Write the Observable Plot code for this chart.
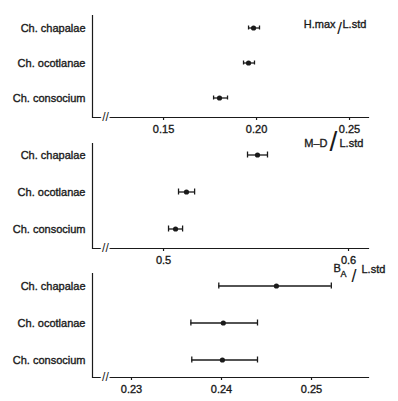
<!DOCTYPE html>
<html><head><meta charset="utf-8">
<script src="https://cdn.jsdelivr.net/npm/d3@7"></script>
<script src="https://cdn.jsdelivr.net/npm/@observablehq/plot@0.6"></script>
<style>
body{margin:0;background:#fff;}
#chart{position:relative;width:398px;height:401px;}
#chart svg{display:block;overflow:visible;}
#chart svg + svg{margin-top:-10px;}
#chart svg g[aria-label="y-axis tick label"] text,
#chart svg g[aria-label="x-axis tick label"] text{stroke:#1a1a1a;stroke-width:0.35px;}
</style></head><body><div id="chart"></div>
<script>
const species = ["Ch. chapalae", "Ch. ocotlanae", "Ch. consocium"];

// H.max / L.std
const hmaxMean = [0.1984, 0.1957, 0.1801];
const hmaxLow  = [0.1957, 0.1930, 0.1769];
const hmaxHigh = [0.2016, 0.1989, 0.1844];
const hmaxTicks = [0.15, 0.20, 0.25];
const hmaxTickLabels = ["0.15", "0.20", "0.25"];

// M-D / L.std
const mdMean = [0.5508, 0.5124, 0.5065];
const mdLow  = [0.5454, 0.5081, 0.5027];
const mdHigh = [0.5562, 0.5168, 0.5103];
const mdTicks = [0.5, 0.6];
const mdTickLabels = ["0.5", "0.6"];

// B_A / L.std
const baMean = [0.2461, 0.2402, 0.2401];
const baLow  = [0.2397, 0.2366, 0.2367];
const baHigh = [0.2522, 0.2440, 0.2440];
const baTicks = [0.23, 0.24, 0.25];
const baTickLabels = ["0.23", "0.24", "0.25"];

const FONT = "'Liberation Sans', Arial, Helvetica, sans-serif";
const INK = "#1a1a1a";

function rows(mean, low, high) {
  return species.map((s, i) => ({species: s, mean: mean[i], low: low[i], high: high[i]}));
}

function panel({data, ticks, tickLabels, domain, breakAt, height, marginTop, marginBottom, yRange, title}) {
  return Plot.plot({
    width: 398,
    height,
    marginLeft: 92,
    marginRight: 30,
    marginTop,
    marginBottom,
    style: {fontFamily: FONT, fontSize: "11px", color: INK, background: "transparent", overflow: "visible"},
    x: {domain, label: null},
    y: {type: "band", domain: species, range: yRange, padding: 0, label: null},
    marks: [
      Plot.frame({anchor: "bottom", stroke: INK, strokeWidth: 1.2}),
      Plot.ruleX([domain[0]], {stroke: INK, strokeWidth: 1.2}),
      Plot.axisY({tickSize: 0, tickPadding: 7, fontSize: 11, label: null}),
      Plot.axisX({ticks, tickFormat: d => tickLabels[ticks.indexOf(d)], tickSize: 3, tickPadding: 5, fontSize: 11, label: null, strokeWidth: 1.2}),
      Plot.text([breakAt], {x: d => d, frameAnchor: "bottom", lineAnchor: "middle", text: () => "//", fontSize: 12, fill: INK, stroke: "white", strokeWidth: 4, paintOrder: "stroke"}),
      Plot.ruleY(data, {y: "species", x1: "low", x2: "high", stroke: INK, strokeWidth: 1.3}),
      Plot.tickX(data, {y: "species", x: "low", stroke: INK, strokeWidth: 1.3, insetTop: 15.5, insetBottom: 15.5}),
      Plot.tickX(data, {y: "species", x: "high", stroke: INK, strokeWidth: 1.3, insetTop: 15.5, insetBottom: 15.5}),
      Plot.dot(data, {y: "species", x: "mean", r: 2.6, fill: INK, stroke: null}),
      ...title.map(t => Plot.text([t.text], {frameAnchor: "top-right", lineAnchor: "middle", textAnchor: t.anchor, dx: t.dx, dy: t.dy, fontSize: t.size, fill: INK, stroke: t.text === "/" ? null : INK, strokeWidth: 0.35, text: d => d}))
    ]
  });
}

const chart = document.getElementById("chart");

chart.append(panel({
  data: rows(hmaxMean, hmaxLow, hmaxHigh),
  ticks: hmaxTicks, tickLabels: hmaxTickLabels,
  domain: [0.1118, 0.2602], breakAt: 0.1188,
  height: 140, marginTop: 15, marginBottom: 23, yRange: [9, 116],
  title: [
    {text: "H.max", anchor: "end", dx: -33, dy: 9, size: 11},
    {text: "/", anchor: "middle", dx: -29, dy: 13, size: 17},
    {text: "L.std", anchor: "start", dx: -26, dy: 9, size: 11}
  ]
}));

chart.append(panel({
  data: rows(mdMean, mdLow, mdHigh),
  ticks: mdTicks, tickLabels: mdTickLabels,
  domain: [0.4616, 0.6108], breakAt: 0.4686,
  height: 140, marginTop: 13, marginBottom: 22, yRange: [5.5, 116.5],
  title: [
    {text: "M–D", anchor: "end", dx: -41, dy: 0, size: 11},
    {text: "/", anchor: "middle", dx: -35, dy: -1.5, size: 28},
    {text: "L.std", anchor: "start", dx: -29, dy: 0, size: 11}
  ]
}));

chart.append(panel({
  data: rows(baMean, baLow, baHigh),
  ticks: baTicks, tickLabels: baTickLabels,
  domain: [0.22567, 0.25633], breakAt: 0.2271,
  height: 141, marginTop: 13, marginBottom: 24, yRange: [6.5, 117.5],
  title: [
    {text: "B", anchor: "start", dx: -35, dy: -5.5, size: 11},
    {text: "A", anchor: "start", dx: -28, dy: 0.5, size: 9},
    {text: "/", anchor: "middle", dx: -14.5, dy: 2.5, size: 18},
    {text: "L.std", anchor: "start", dx: -7, dy: -4, size: 11}
  ]
}));
</script>
</body></html>
